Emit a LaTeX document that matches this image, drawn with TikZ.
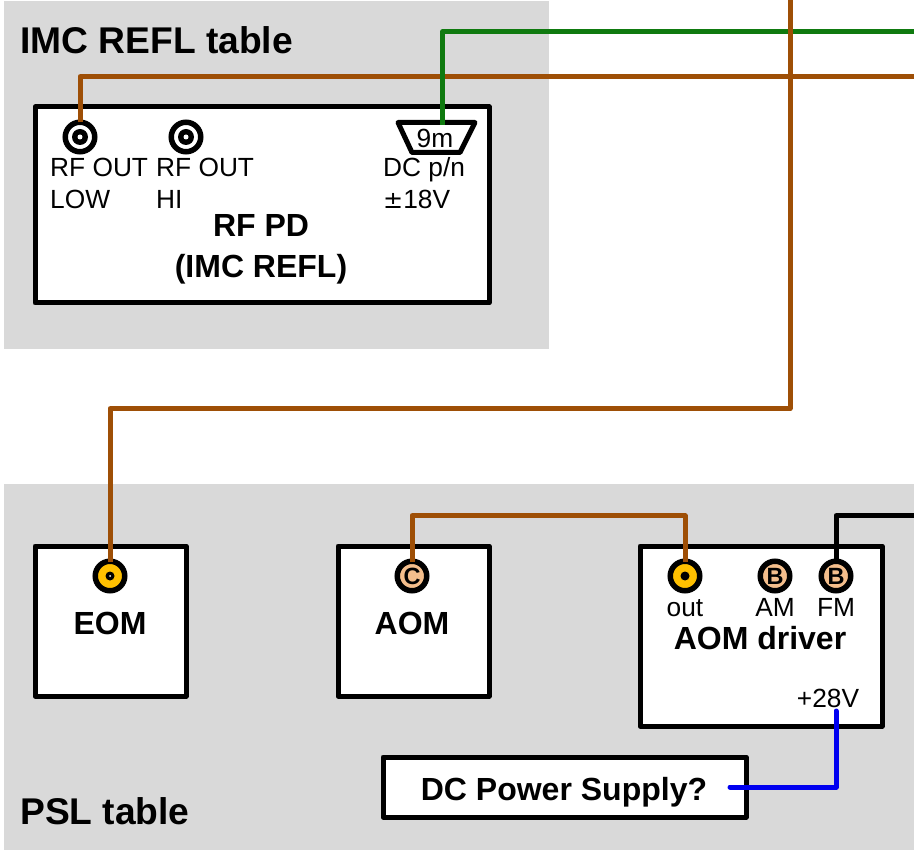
\documentclass[tikz,border=0pt]{standalone}
\usepackage{fontspec}
\setmainfont{Liberation Sans}
\newfontfamily\symfont{DejaVu Sans}
\definecolor{panelgrey}{HTML}{D9D9D9}
\definecolor{cablebrown}{HTML}{9E4F06}
\definecolor{cablegreen}{HTML}{0F7A0F}
\definecolor{cableblue}{HTML}{0000F0}
\definecolor{gold}{HTML}{FFC000}
\definecolor{peach}{HTML}{F4BE8C}
\tikzset{
  panel/.style={fill=panelgrey,draw=none},
  device/.style={draw=black,fill=white,line width=5pt,line join=round,inner sep=0pt},
  conn/.style={circle,draw=black,line width=5.5pt,minimum size=29.5pt,inner sep=0pt,font=\fontsize{23.5}{23.5}\selectfont\bfseries},
  bnc/.style={conn,fill=white},
  sma/.style={conn,fill=gold},
  lettered/.style={conn,fill=peach},
  cable/.style={line width=5pt,line join=round,line cap=butt,shorten <=-3pt},
  head/.style={font=\fontsize{37.2}{37.2}\selectfont\bfseries,inner sep=0pt},
  title/.style={font=\fontsize{32}{32}\selectfont\bfseries,inner sep=0pt},
  small/.style={font=\fontsize{26.3}{26.3}\selectfont,inner sep=0pt},
}
\begin{document}
\begin{tikzpicture}[x=1pt,y=-1pt]
\useasboundingbox (0,0) rectangle (914,850);
\fill[white] (0,0) rectangle (914,850);
\fill[panel] (4,1) rectangle (549,349);
\fill[panel] (4,484) rectangle (914,850);
\node[head,anchor=base west] (imctitle) at (20,54) {IMC REFL table};
\node[head,anchor=base west] (psltitle) at (20,824) {PSL table};
% devices
\node[device,minimum width=454pt,minimum height=196pt] (rfpd) at (262,205) {};
\node[device,minimum width=151pt,minimum height=150pt] (eom) at (110.5,621) {};
\node[device,minimum width=151pt,minimum height=150pt] (aom) at (413.5,621) {};
\node[device,minimum width=242pt,minimum height=180pt] (driver) at (761,636) {};
\node[device,minimum width=363pt,minimum height=60pt] (supply) at (564.5,787) {};
% connectors
\node[bnc] (rflow) at (80,137) {};
\fill (rflow) circle (8pt);
\fill[white] (rflow) circle (2.5pt);
\node[bnc] (rfhi) at (186,137) {};
\fill (rfhi) circle (8pt);
\fill[white] (rfhi) circle (2.5pt);
\draw[line width=5pt,line join=round,fill=white] (398,122.5) -- (475,122.5) -- (460,152.5) -- (412,152.5) -- cycle;
\coordinate (dsub) at (442.5,125);
\node[small,anchor=base] (ninem) at (435,148) {9m};
\node[sma] (eomport) at (110,576) {};
\fill (eomport) circle (4.5pt);
\fill[white] (eomport) circle (1pt);
\node[lettered] (aomport) at (412,576) {C};
\node[sma] (out) at (685,576) {};
\fill (out) circle (4.5pt);
\node[lettered] (am) at (775,576) {B};
\node[lettered] (fm) at (836,576) {B};
\coordinate (pwr) at (836,711);
\coordinate (psu) at (730,787);
% texts
\node[small,anchor=base west] (t1) at (50,176.5) {RF OUT};
\node[small,anchor=base west] (t2) at (50,208.5) {LOW};
\node[small,anchor=base west] (t3) at (156,176.5) {RF OUT};
\node[small,anchor=base west] (t4) at (156,208.5) {HI};
\node[small,anchor=base west] (t5) at (383,176.5) {DC p/n};
\node[small,anchor=base west] (t6) at (383,208.5) {{\symfont\fontsize{24}{24}\selectfont ±}18V};
\node[title,anchor=base] (t7) at (261,237) {RF PD};
\node[title,anchor=base] (t8) at (261,278) {(IMC REFL)};
\node[title,anchor=base] (t9) at (110,634) {EOM};
\node[title,anchor=base] (t10) at (412,634) {AOM};
\node[title,anchor=base] (t11) at (760,649) {AOM driver};
\node[small,anchor=base] (t12) at (685,616.5) {out};
\node[small,anchor=base] (t13) at (775,616.5) {AM};
\node[small,anchor=base] (t14) at (836,616.5) {FM};
\node[small,anchor=base] (t15) at (828,707.5) {+28V};
\node[title,anchor=base] (t16) at (564,800) {DC Power Supply?};
% free cable ends
\coordinate (greenend) at (914,31.7);
\coordinate (brownend) at (914,76.7);
\coordinate (eomend) at (790,0);
\coordinate (blackend) at (914,515.7);
% cables
\draw[cable,cablebrown] (rflow.north) |- (brownend);
\draw[cable,cablegreen,shorten <=0pt] (dsub) |- (greenend);
\draw[cable,cablebrown] (eomport.north) |- (790,408.7) -- (eomend);
\draw[cable,cablebrown,shorten >=-3pt] (aomport.north) |- (685,515.7) -- (out.north);
\draw[cable,black] (fm.north) |- (blackend);
\draw[cable,cableblue,line cap=round,shorten <=0pt] (pwr) |- (psu);
\end{tikzpicture}
\end{document}
